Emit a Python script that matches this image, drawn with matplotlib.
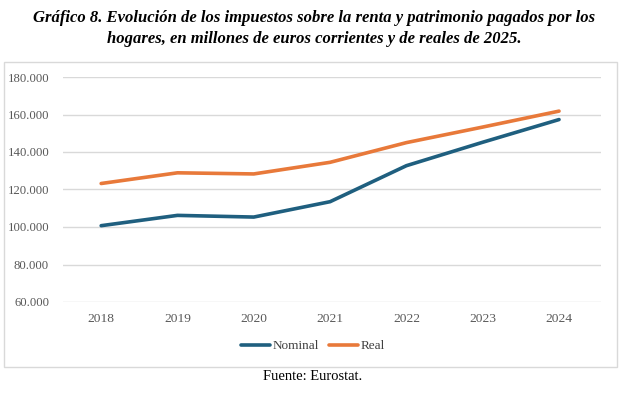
import matplotlib.pyplot as plt
from matplotlib.patches import Rectangle
from matplotlib.ticker import FuncFormatter

# ---------------- DATA ----------------
years = ["2018", "2019", "2020", "2021", "2022", "2023", "2024"]
nominal = [100700, 106200, 105300, 113500, 132700, 145200, 157300]
real = [123200, 128900, 128300, 134500, 145000, 153300, 161800]

BLUE = "#1f5f7f"
ORANGE = "#e8793a"
SERIF = "Liberation Serif"

# ---------------- FIGURE ----------------
fig = plt.figure(figsize=(6.31, 3.93), dpi=100)
W, H = 631, 393

# chart frame
fig.patches.append(Rectangle((4 / W, 1 - 367 / H), 613 / W, 305 / H,
                             transform=fig.transFigure, fill=False,
                             edgecolor="#d9d9d9", linewidth=1))

ax = fig.add_axes([63 / W, 1 - 302 / H, 538 / W, 225 / H])
x = range(len(years))
ax.plot(x, nominal, color=BLUE, linewidth=2.6, label="Nominal", solid_capstyle="round")
ax.plot(x, real, color=ORANGE, linewidth=2.6, label="Real", solid_capstyle="round")

ax.set_xlim(-0.5, 6.55)
ax.set_ylim(60000, 180000)
ax.set_yticks(range(60000, 180001, 20000))
ax.yaxis.set_major_formatter(FuncFormatter(lambda v, p: f"{int(v):,}".replace(",", ".")))
ax.set_xticks(list(x))
ax.set_xticklabels(years)
ax.grid(axis="y", color="#d9d9d9", linewidth=1)
ax.set_axisbelow(True)
for s in ax.spines.values():
    s.set_visible(False)
ax.tick_params(axis="x", length=0, labelsize=9.7, colors="#595959", pad=8)
ax.tick_params(axis="y", length=0, labelsize=9.2, colors="#595959", pad=10)
for lab in ax.get_xticklabels() + ax.get_yticklabels():
    lab.set_fontfamily(SERIF)

leg = fig.legend(loc="center", bbox_to_anchor=(313 / W, 1 - 346 / H), ncol=2,
                 frameon=False, handlelength=2.2, handletextpad=0.15, columnspacing=0.8,
                 prop={"family": SERIF, "size": 9.5})
for t in leg.get_texts():
    t.set_color("#404040")

fig.text(314 / W, 1 - 28.5 / H,
         "Gráfico 8. Evolución de los impuestos sobre la renta y patrimonio pagados por los\n"
         "hogares, en millones de euros corrientes y de reales de 2025.",
         ha="center", va="center", fontfamily=SERIF, fontsize=12,
         fontweight="bold", fontstyle="italic", linespacing=1.38)

fig.text(313 / W, 1 - 377 / H, "Fuente: Eurostat.", ha="center", va="center",
         fontfamily=SERIF, fontsize=10.5)

fig.savefig("out.png", dpi=100)
